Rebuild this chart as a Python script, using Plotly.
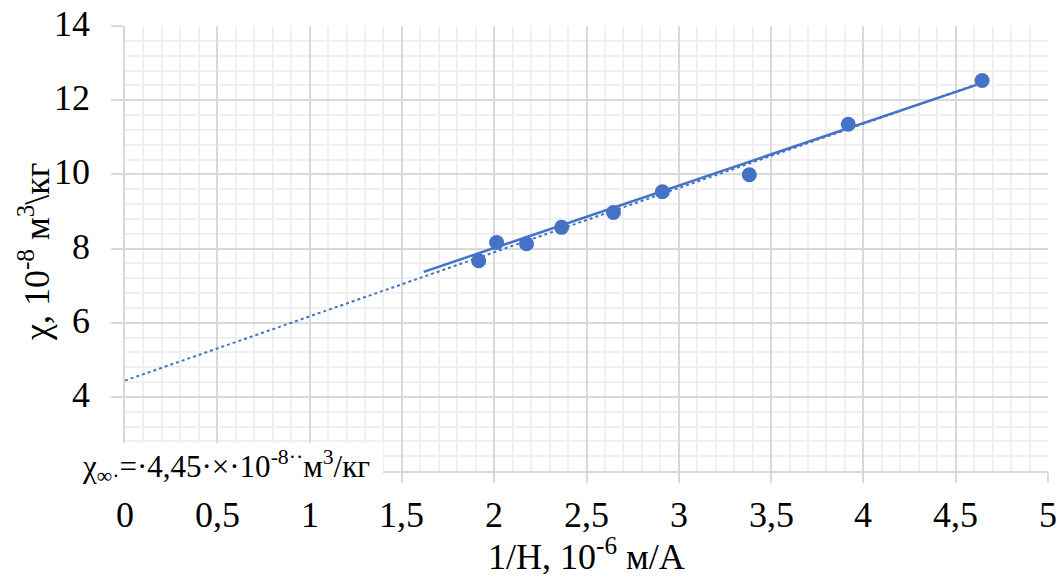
import numpy as np
import plotly.graph_objects as go

# data
inv_h = [1.916, 2.013, 2.175, 2.365, 2.646, 2.911, 3.382, 3.918, 4.643]
chi = [7.67, 8.16, 8.13, 8.57, 8.97, 9.53, 9.99, 11.35, 12.53]

solid_x = [1.618, 4.665]
solid_y = [7.37, 12.50]

x_tick_vals = [0, 0.5, 1, 1.5, 2, 2.5, 3, 3.5, 4, 4.5, 5]
x_tick_text = ["0", "0,5", "1", "1,5", "2", "2,5", "3", "3,5", "4", "4,5", "5"]
y_tick_vals = [2, 4, 6, 8, 10, 12, 14]
y_tick_text = ["", "4", "6", "8", "10", "12", "14"]

x_title = "1/H, 10<sup>-6</sup> м/А"
y_title = "χ, 10<sup>-8</sup> м<sup>3</sup>\\кг"
annotation_text = "χ<sub>∞·</sub>=·4,45·×·10<sup>-8··</sup>м<sup>3</sup>/кг"

# linear trendline (dotted), extrapolated back to 0
slope, intercept = np.polyfit(inv_h, chi, 1)
trend_x = np.array([0.0, max(inv_h)])
trend_y = slope * trend_x + intercept

BLUE = "#4472C4"
FONT = "Liberation Serif"
MAJOR = "#d9d9d9"
MINOR = "#f0f0f0"

W, H = 1064, 580
ML, MR, MT, MB = 125, 16, 26, 109
PW, PH = W - ML - MR, H - MT - MB

fig = go.Figure()
fig.add_trace(go.Scatter(x=trend_x, y=trend_y, mode="lines",
                         line=dict(color=BLUE, width=2, dash="dot"),
                         showlegend=False, hoverinfo="skip"))
fig.add_trace(go.Scatter(x=solid_x, y=solid_y, mode="lines",
                         line=dict(color=BLUE, width=2.5),
                         showlegend=False, hoverinfo="skip"))
fig.add_trace(go.Scatter(x=inv_h, y=chi, mode="markers",
                         marker=dict(color=BLUE, size=15),
                         showlegend=False))

fig.update_layout(
    width=W, height=H,
    margin=dict(l=ML, r=MR, t=MT, b=MB),
    paper_bgcolor="white", plot_bgcolor="white",
    font=dict(family=FONT, size=36, color="black"),
    xaxis=dict(
        range=[0, 5], tickmode="array", tickvals=x_tick_vals,
        showticklabels=False,
        showgrid=True, gridcolor=MAJOR, gridwidth=1.5,
        minor=dict(dtick=0.1, tick0=0, showgrid=True, gridcolor=MINOR, gridwidth=1.5, ticks=""),
        ticks="outside", ticklen=10, tickcolor=MAJOR, tickwidth=1.5,
        showline=True, linecolor=MAJOR, linewidth=1.5,
        zeroline=False,
    ),
    yaxis=dict(
        range=[2, 14], tickmode="array", tickvals=y_tick_vals,
        showticklabels=False,
        showgrid=True, gridcolor=MAJOR, gridwidth=1.5,
        minor=dict(dtick=0.4, tick0=0, showgrid=True, gridcolor=MINOR, gridwidth=1.5, ticks=""),
        ticks="outside", ticklen=12, tickcolor=MAJOR, tickwidth=1.5,
        showline=True, linecolor=MAJOR, linewidth=1.5,
        zeroline=False,
    ),
)

label_font = dict(family=FONT, size=36, color="black")

# tick labels (serif), placed on the axes' own scales
for v, t in zip(x_tick_vals, x_tick_text):
    fig.add_annotation(x=v, xref="x", y=0, yref="paper", text=t, showarrow=False,
                       xanchor="center", yanchor="middle", yshift=-44, font=label_font)
for v, t in zip(y_tick_vals, y_tick_text):
    if t:
        fig.add_annotation(x=(92 - ML) / PW, xref="paper", y=v, yref="y", text=t,
                           showarrow=False, xanchor="right", yanchor="middle",
                           yshift=2, font=label_font)

# axis titles
fig.add_annotation(x=0.5, xref="paper", y=-MB / PH, yref="paper", text=x_title,
                   showarrow=False, xanchor="center", yanchor="bottom", yshift=1,
                   font=label_font)
fig.add_annotation(x=(34 - ML) / PW, xref="paper", y=(PH + MT - 252) / PH, yref="paper",
                   text=y_title, textangle=-90, showarrow=False,
                   xanchor="center", yanchor="middle", font=label_font)

# value box
fig.add_annotation(
    xref="paper", yref="paper",
    x=(226 - ML) / PW, y=(PH + MT - 466.5) / PH,
    xanchor="center", yanchor="middle",
    text=annotation_text, showarrow=False,
    font=dict(family=FONT, size=31, color="black"),
    bgcolor="white", width=314, height=47, borderpad=0, borderwidth=0,
    align="center",
)

fig.write_html("out.html")
